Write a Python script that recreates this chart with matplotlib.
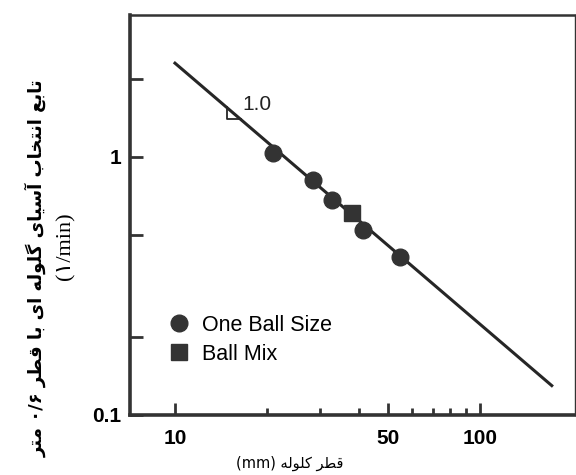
import re
import matplotlib
matplotlib.use("Agg")
import matplotlib.pyplot as plt
from matplotlib.ticker import FixedLocator, NullFormatter

# data
ball_size_x = [20.9, 28.3, 32.7, 41.4, 54.6]
ball_size_y = [1.04, 0.815, 0.68, 0.52, 0.41]
ball_mix_x = [38.0]
ball_mix_y = [0.606]
fit_x = [10, 172]
fit_y = [2.31, 0.13]
slope_label = "1.0"

xlabel_fa = "قطر کلوله (mm)"
ylabel_fa = "تابع انتخاب آسیای گلوله ای با قطر ۰/۶ متر"
ylabel_unit = "(۱/min)"

# minimal persian shaping (matplotlib has no text shaping)
FORMS = {
    'ا': (0xFE8D, 0xFE8E), 'آ': (0xFE81, 0xFE82), 'ر': (0xFEAD, 0xFEAE),
    'و': (0xFEED, 0xFEEE),
    'ب': (0xFE8F, 0xFE90, 0xFE91, 0xFE92), 'ت': (0xFE95, 0xFE96, 0xFE97, 0xFE98),
    'خ': (0xFEA5, 0xFEA6, 0xFEA7, 0xFEA8), 'س': (0xFEB1, 0xFEB2, 0xFEB3, 0xFEB4),
    'ط': (0xFEC1, 0xFEC2, 0xFEC3, 0xFEC4), 'ع': (0xFEC9, 0xFECA, 0xFECB, 0xFECC),
    'ق': (0xFED5, 0xFED6, 0xFED7, 0xFED8), 'ک': (0xFB8E, 0xFB8F, 0xFB90, 0xFB91),
    'گ': (0xFB92, 0xFB93, 0xFB94, 0xFB95), 'ل': (0xFEDD, 0xFEDE, 0xFEDF, 0xFEE0),
    'م': (0xFEE1, 0xFEE2, 0xFEE3, 0xFEE4), 'ن': (0xFEE5, 0xFEE6, 0xFEE7, 0xFEE8),
    'ه': (0xFEE9, 0xFEEA, 0xFEEB, 0xFEEC), 'ی': (0xFBFC, 0xFBFD, 0xFBFE, 0xFBFF),
}
MIRROR = {'(': ')', ')': '('}


def farsi(text):
    out = []
    for i, c in enumerate(text):
        if c not in FORMS:
            out.append(c)
            continue
        f = FORMS[c]
        p = text[i - 1] if i > 0 else ''
        n = text[i + 1] if i + 1 < len(text) else ''
        jp = p in FORMS and len(FORMS[p]) == 4
        jn = n in FORMS and len(f) == 4
        k = 3 if (jp and jn) else 1 if jp else 2 if jn else 0
        out.append(chr(f[k]))
    s = ''.join(out)
    toks = re.findall(r'[A-Za-z0-9\u06F0-\u06F9/.]+|.', s)
    return ''.join(MIRROR.get(t, t) for t in reversed(toks))


fig = plt.figure(figsize=(5.76, 4.75), dpi=100)
ax = fig.add_axes([130 / 576, 1 - 415 / 475, 445 / 576, 400 / 475])
ax.set_xscale('log')
ax.set_yscale('log')
ax.set_xlim(7.12, 205)
ax.set_ylim(0.1, 3.55)

dark = '#262626'
ax.plot(fit_x, fit_y, color=dark, lw=2.2, zorder=2)
ax.plot(ball_size_x, ball_size_y, 'o', color='#333333', ms=12, zorder=3, label='One Ball Size')
ax.plot(ball_mix_x, ball_mix_y, 's', color='#333333', ms=11, zorder=3, label='Ball Mix')

# slope triangle under the line
tx0, tx1 = 14.8, 16.5
k = fit_y[0] * fit_x[0]
ty_top, ty_bot = k / tx0, k / tx1
ax.plot([tx0, tx0, tx1], [ty_top, ty_bot, ty_bot], color=dark, lw=1.3, zorder=2)
ax.text(16.6, 1.52, slope_label, fontsize=15, family='Liberation Sans',
        color='#222222', va='baseline')

for side, lw in (('left', 2.6), ('bottom', 2.6), ('top', 1.8), ('right', 1.0)):
    ax.spines[side].set_linewidth(lw)
    ax.spines[side].set_color('#333333')

ax.xaxis.set_major_locator(FixedLocator([10, 50, 100]))
ax.xaxis.set_minor_locator(FixedLocator([20, 30, 40, 60, 70, 80, 90]))
ax.xaxis.set_minor_formatter(NullFormatter())
ax.set_xticklabels(['10', '50', '100'])
ax.yaxis.set_major_locator(FixedLocator([0.1, 1]))
ax.yaxis.set_minor_locator(FixedLocator([0.2, 0.5, 2]))
ax.yaxis.set_minor_formatter(NullFormatter())
ax.set_yticklabels(['0.1', '1'])

ax.tick_params(which='both', direction='in', color='#333333', width=2)
ax.tick_params(axis='x', which='major', length=9, pad=10)
ax.tick_params(axis='x', which='minor', length=5)
ax.tick_params(axis='y', which='both', length=9, pad=6)
ax.tick_params(top=False, right=False, which='both')
for lab in ax.get_xticklabels() + ax.get_yticklabels():
    lab.set_fontfamily('Liberation Sans')
    lab.set_fontweight('bold')
    lab.set_fontsize(15)

leg = ax.legend(loc='center left', bbox_to_anchor=(0.07, 0.188), frameon=False,
                borderaxespad=0, handlelength=0.9, handletextpad=0.6,
                labelspacing=0.36, numpoints=1, markerscale=1.0,
                prop={'family': 'Liberation Sans', 'size': 15.5})

fig.text(290 / 576, 1 - 463 / 475, farsi(xlabel_fa), ha='center', va='center',
         fontsize=10.5, family='DejaVu Sans')
fig.text(36 / 576, 1 - 268 / 475, farsi(ylabel_fa), rotation=90, ha='center', va='center',
         fontsize=13, family='DejaVu Sans', fontweight='bold')
fig.text(66 / 576, 1 - 246 / 475, ylabel_unit, rotation=90, ha='center', va='center',
         fontsize=16, family=['Liberation Serif', 'DejaVu Sans'])

fig.savefig('out.png', dpi=100)
